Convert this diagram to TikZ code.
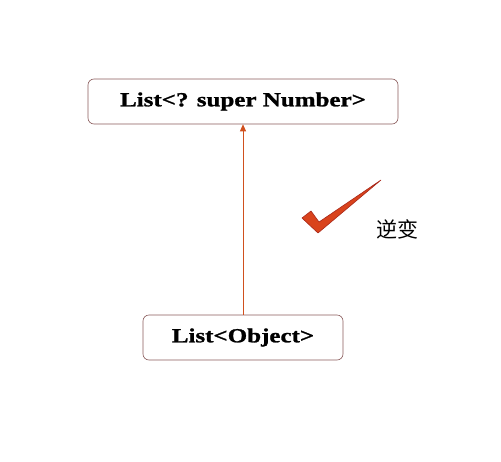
\documentclass[tikz,border=0pt]{standalone}
\usepackage{fontspec}
\setmainfont{Liberation Serif}
\newfontfamily\boxfont[FakeStretch=1.25, FakeBold=1.2]{Liberation Serif Bold}
\newfontfamily\cjk{Noto Sans CJK SC}
\usepackage{xcolor}
\usetikzlibrary{positioning,arrows.meta}
\definecolor{boxline}{HTML}{8A5A5A}
\definecolor{arrowred}{HTML}{D0501E}
\definecolor{tickfill}{HTML}{D9431C}
\definecolor{tickedge}{HTML}{A8281A}

\begin{document}
\begin{tikzpicture}[x=1pt, y=-1pt,
    typebox/.style={draw=boxline, rounded corners=6pt, fill=white, line width=0.6pt,
        font=\boxfont\fontsize{20}{23}\selectfont},
    covar/.style={draw=arrowred, line width=0.8pt, -{Triangle[length=7pt, width=6pt]}}]
    \useasboundingbox (0,0) rectangle (501,461);

    % Types
    \node[typebox, minimum width=310pt, minimum height=45pt] (super) at (243,101.5) {List<? super Number>};
    \node[typebox, minimum width=200pt, minimum height=45pt] (obj) at (243,337.5) {List<Object>};

    % Relation
    \draw[covar] (obj) -- (super);

    % Tick mark
    \filldraw[fill=tickfill, draw=tickedge, line width=0.6pt, line join=round]
        (302,218) -- (311,211) -- (319,222) -- (381,180) -- (318,233) -- cycle;
    \node[font=\cjk\fontsize{21}{24}\selectfont] (label) at (397,229) {逆变};
\end{tikzpicture}
\end{document}
